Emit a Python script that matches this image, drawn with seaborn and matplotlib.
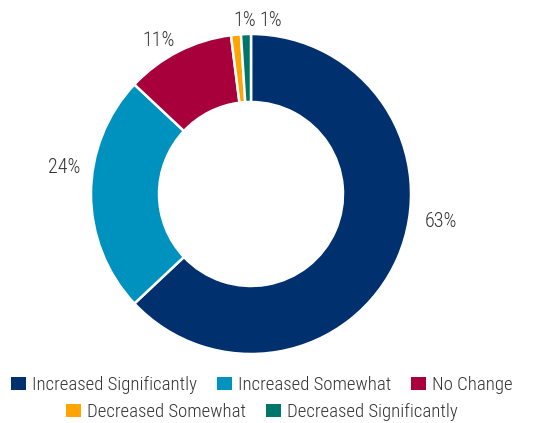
import numpy as np
import matplotlib
matplotlib.use("Agg")
import matplotlib.pyplot as plt
import matplotlib.font_manager as fm
import seaborn as sns
from matplotlib.patches import Patch

categories = ["Increased Significantly", "Increased Somewhat", "No Change",
              "Decreased Somewhat", "Decreased Significantly"]
values = [63, 24, 11, 1, 1]
value_labels = ["63%", "24%", "11%", "1%", "1%"]
colors = ["#00306e", "#0092bf", "#a8003a", "#ffa400", "#00766a"]

# label placement (angle in degrees, radius relative to outer radius)
label_angles = [-8.3, 172, 121, 92.2, 83.5]
label_radii = [1.20, 1.18, 1.12, 1.085, 1.09]

sns.set_theme(style="white")
available = {f.name for f in fm.fontManager.ttflist}
preferred = ["Roboto Condensed", "Liberation Sans Narrow", "Archivo Narrow",
             "Sofia Sans Condensed", "Asap Condensed"]
chosen = [f for f in preferred if f in available][:1]
plt.rcParams["font.family"] = chosen + ["DejaVu Sans"]
plt.rcParams["font.weight"] = "light"

W, H = 541, 423
fig = plt.figure(figsize=(W / 100, H / 100), dpi=100)
R = 160.0
cx, cy = 251, 423 - 194
xl = (-1.55, 1.55)
yl = (-1.1, 1.2)
ax = fig.add_axes([(cx + xl[0] * R) / W, (cy + yl[0] * R) / H,
                   (xl[1] - xl[0]) * R / W, (yl[1] - yl[0]) * R / H])

wedges, _ = ax.pie(values, colors=colors, startangle=90, counterclock=False,
                   radius=1.0,
                   wedgeprops=dict(width=0.425, edgecolor="white", linewidth=1.8))
ax.set_xlim(*xl)
ax.set_ylim(*yl)
ax.set_aspect("auto")
ax.axis("off")

for lab, ang, rr in zip(value_labels, label_angles, label_radii):
    t = np.deg2rad(ang)
    ax.text(rr * np.cos(t), rr * np.sin(t), lab, ha="center", va="center",
            fontsize=14.5, color="#333333", fontweight="light")

handles = [Patch(facecolor=c, edgecolor="none") for c in colors]
leg_kw = dict(frameon=False, prop=dict(size=13.5, weight="light"),
              handlelength=0.8, handleheight=0.75,
              handletextpad=0.32, columnspacing=1.05, borderpad=0, labelcolor="#333333")
leg1 = fig.legend(handles[:3], categories[:3], ncol=3, loc="center",
                  bbox_to_anchor=(262 / W, 1 - 385 / H), **leg_kw)
leg2 = fig.legend(handles[3:], categories[3:], ncol=2, loc="center",
                  bbox_to_anchor=(262 / W, 1 - 412 / H), **leg_kw)
fig.savefig("out.png", dpi=100)
